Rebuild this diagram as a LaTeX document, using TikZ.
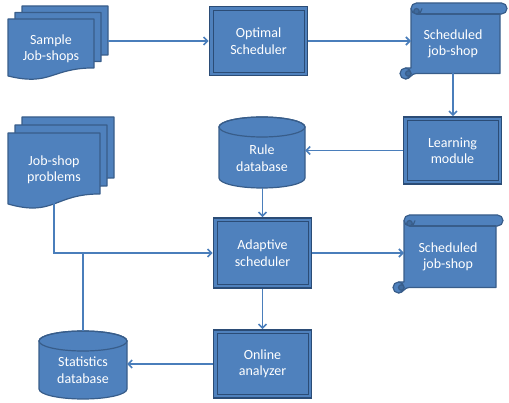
\documentclass[tikz,border=0pt]{standalone}
\usepackage{fontspec}
\setmainfont{Carlito}
\usetikzlibrary{arrows.meta}
\definecolor{boxfill}{HTML}{4F81BD}
\definecolor{boxline}{HTML}{2B4C76}
\definecolor{shpline}{HTML}{385D8A}
\definecolor{connc}{HTML}{4A7EBB}
\definecolor{curlc}{HTML}{3E6A9E}
\newcommand\mydoc[4]{%
  \filldraw[shp] (#1,#2) -- (#1+#3,#2) -- (#1+#3,#2+0.802*#4)
    .. controls (#1+0.5*#3,#2+0.802*#4) and (#1+0.5*#3,#2+1.107*#4) .. (#1,#2+0.934*#4) -- cycle;}
\newcommand\mycyl[4]{%
  \filldraw[shp] (#1-#4,#2+10) -- (#1-#4,#3-10)
    arc[start angle=180, end angle=0, x radius=#4, y radius=10]
    -- (#1+#4,#2+10)
    arc[start angle=0, end angle=-180, x radius=#4, y radius=10] -- cycle;
  \draw[shp, fill=none] (#1,#2+10) ellipse[x radius=#4, y radius=10];}
\newcommand\myscroll[4]{%
  \filldraw[shp] (#1+11,#2+5.5) -- (#1+11,#4-11) -- (#1+5.5,#4-11)
    arc[start angle=270, end angle=90, radius=5.5]
    to[out=0,in=180] (#1+16,#4-5.5) -- (#3-7,#4-5.5) -- (#3-7,#2+11) -- (#3-5.5,#2+11)
    arc[start angle=90, end angle=-90, radius=5.5]
    -- (#1+16.5,#2) arc[start angle=-90, end angle=-180, radius=5.5] -- cycle;
  \draw[shp, fill=none] (#1+16.5,#2+11) -- (#3-7,#2+11);
  \draw[shp, fill=none] (#1+11,#2+5.5) arc[start angle=180, end angle=0, radius=5.5];
  \filldraw[shp, fill=curlc] (#1+16.5,#2+8.25) circle[radius=2.75];
  \draw[shp, fill=none] (#1+5.5,#4-11) arc[start angle=-90, end angle=90, radius=5.5];
  \filldraw[shp, fill=curlc] (#1+8.25,#4-5.5) circle[radius=2.75];}
\begin{document}
\begin{tikzpicture}[x=1pt,y=-1pt,
  shp/.style={fill=boxfill, draw=shpline, line width=1.2pt, line join=round},
  lbl/.style={text=white, align=center, font=\fontsize{14}{16.5}\selectfont, inner sep=0pt},
  procbox/.style={lbl, draw=boxline, fill=boxfill, line width=1.6pt,
    minimum width=98pt, minimum height=69pt,
    path picture={\draw[boxline, line width=0.8pt]
      ([shift={(3.5pt,3.5pt)}]path picture bounding box.south west) rectangle
      ([shift={(-3.5pt,-3.5pt)}]path picture bounding box.north east);}},
  conn/.style={draw=connc, line width=1.6pt, -{Straight Barb[length=4pt,width=8pt]}},
  link/.style={draw=connc, line width=1.6pt}]
\useasboundingbox (0,0) rectangle (509,403);

% shapes
\mydoc{22}{6}{86}{61}
\mydoc{15}{12.5}{86}{61}
\mydoc{8}{19}{86}{61}
\mydoc{22}{117}{92}{76}
\mydoc{15}{125}{92}{76}
\mydoc{8}{133}{92}{76}
\mycyl{262}{117}{188}{43}
\mycyl{83}{331}{399}{44}
\myscroll{400}{3}{507}{79}
\myscroll{393}{215}{503}{293}

% nodes
\node[lbl] (sample) at (51,49) {Sample\\Job-shops};
\node[lbl] (jsp) at (54,170) {Job-shop\\problems};
\node[procbox] (opt) at (258.5,41) {Optimal\\Scheduler};
\node[lbl] (sched1) at (453,44) {Scheduled\\job-shop};
\node[procbox, minimum height=67pt] (learn) at (452.5,150.5) {Learning\\module};
\node[lbl] (rule) at (262,158) {Rule\\database};
\node[procbox, minimum height=70pt] (adapt) at (262.5,253) {Adaptive\\scheduler};
\node[lbl] (sched2) at (448,257) {Scheduled\\job-shop};
\node[procbox, minimum height=68pt] (online) at (262.5,364) {Online\\analyzer};
\node[lbl] (stats) at (83,370) {Statistics\\database};

% anchor points on drawn shapes
\coordinate (sampleE) at (108,41);
\coordinate (jspS) at (54,203);
\coordinate (s1W) at (411,41);
\coordinate (s1S) at (453,73.5);
\coordinate (ruleE) at (305,150.5);
\coordinate (ruleS) at (262.5,188);
\coordinate (s2W) at (404,253);
\coordinate (statsN) at (83,331);
\coordinate (statsE) at (127,364);

% connectors
\draw[conn] (sampleE) -- (opt.west);
\draw[conn] (opt.east) -- (s1W);
\draw[conn] (s1S) -- (s1S |- learn.north);
\draw[conn] (learn.west) -- (ruleE);
\draw[conn] (ruleS) -- (adapt.north);
\draw[conn] (jspS) |- (adapt.west);
\draw[link] (statsN) -- (statsN |- adapt.west);
\draw[conn] (adapt.east) -- (s2W);
\draw[conn] (adapt.south) -- (online.north);
\draw[conn] (online.west) -- (statsE);
\end{tikzpicture}
\end{document}
